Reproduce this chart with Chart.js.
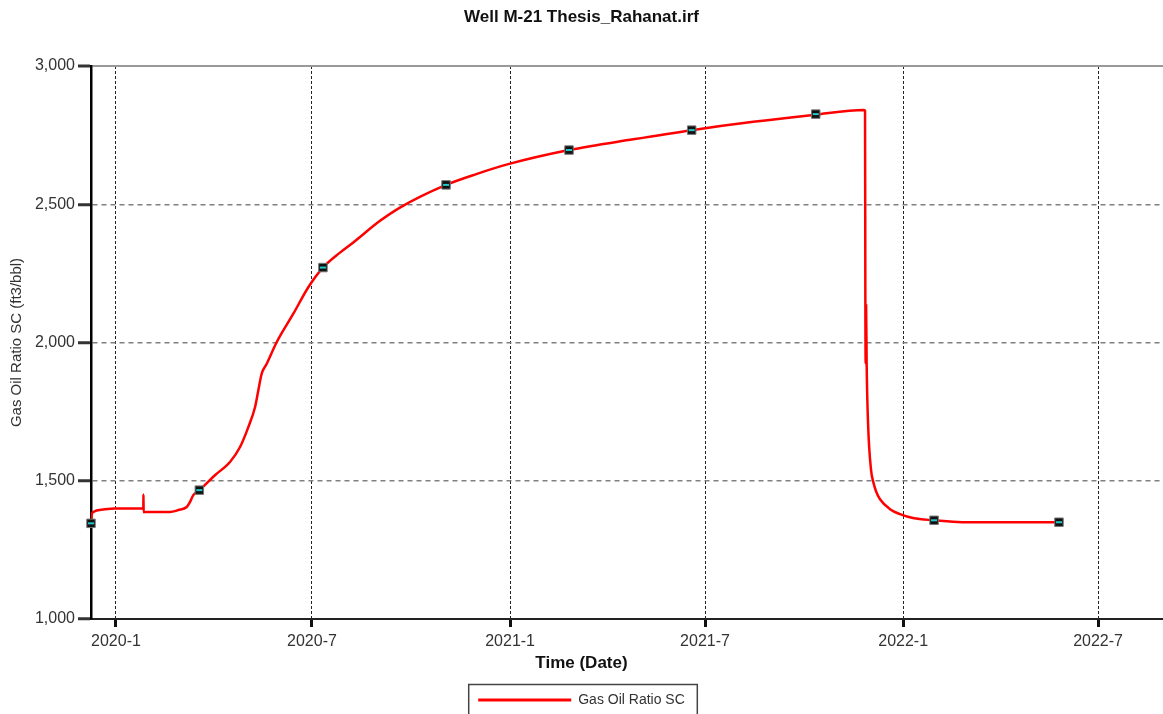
<!DOCTYPE html>
<html>
<head>
<meta charset="utf-8">
<title>Well M-21 Thesis_Rahanat.irf</title>
<script src="https://cdn.jsdelivr.net/npm/chart.js@4.4.1/dist/chart.umd.min.js"></script>
<style>
    html, body { margin: 0; padding: 0; background: #fff; }
    #wrap { width: 1163px; height: 714px; }
</style>
</head>
<body>
<div id="wrap"><canvas id="gorChart" width="1163" height="714"></canvas></div>
<script>
// x values are days counted from 2020-01-01
const tickDays = [0, 182, 366, 547, 731, 912];
const tickLabels = ['2020-1', '2020-7', '2021-1', '2021-7', '2022-1', '2022-7'];
const yTicks = [1000, 1500, 2000, 2500, 3000];

const gorDays = [
    -23.2, -22.6, -21.1, -11.8, -0.9, 25.4, 25.5, 25.7, 27.9, 50.1,
    57.9, 65.7, 68.7, 71.8, 77.4, 91.9, 105.9, 115.2, 122.9, 129.1,
    132.2, 135.3, 140.0, 149.2, 164.7, 178.6, 192.2, 208.0, 220.4, 245.2,
    263.7, 306.5, 335.3, 364.3, 420.7, 480.4, 534.6, 591.8, 647.6, 694.7,
    695.6, 695.9, 696.2, 696.6, 697.1, 698.4, 701.2, 703.3, 705.8, 709.5,
    718.8, 728.1, 740.2, 759.7, 785.7, 875.7
];
const gorValues = [
    1346, 1375, 1387, 1396, 1400, 1400, 1450, 1386, 1387, 1387,
    1394, 1405, 1423, 1448, 1466, 1520, 1568, 1622, 1694, 1766,
    1827, 1887, 1923, 2001, 2104, 2200, 2271, 2325, 2362, 2440,
    2488, 2570, 2610, 2645, 2696, 2735, 2768, 2798, 2823, 2841,
    2838, 2152, 1924, 2134, 1924, 1708, 1538, 1495, 1462, 1433,
    1397, 1379, 1365, 1357, 1350, 1350
];

const markerDays = [-23.2, 77.4, 192.2, 306.5, 420.7, 534.6, 649.8, 759.7, 875.7];
const markerValues = [1346, 1466, 2271, 2570, 2696, 2768, 2826, 1357, 1350];

Chart.defaults.font.family = 'Arial, "Liberation Sans", sans-serif';
Chart.defaults.color = '#333';

const toPoints = (xs, ys) => xs.map((x, i) => ({ x: x, y: ys[i] }));

// box round the legend and the x axis title, centred on the canvas like the original
const extras = {
    id: 'extras',
    afterDraw(chart) {
        const ctx = chart.ctx;
        ctx.save();
        ctx.font = 'bold 17px Arial, "Liberation Sans", sans-serif';
        ctx.fillStyle = '#111';
        ctx.textAlign = 'center';
        ctx.textBaseline = 'middle';
        ctx.fillText('Time (Date)', chart.width / 2, 663);

        const hb = chart.legend.legendHitBoxes[0];
        if (hb) {
            ctx.strokeStyle = '#444';
            ctx.lineWidth = 1.5;
            ctx.strokeRect(hb.left - 9.5, chart.legend.top - 0.5, hb.width + 22, 34);
        }
        ctx.restore();
    }
};

new Chart(document.getElementById('gorChart'), {
    type: 'line',
    data: {
        datasets: [
            {
                label: 'Gas Oil Ratio SC',
                data: toPoints(gorDays, gorValues),
                borderColor: '#ff0000',
                backgroundColor: '#ff0000',
                borderWidth: 2.5,
                pointRadius: 0,
                cubicInterpolationMode: 'monotone',
                fill: false,
                order: 3
            },
            {
                label: 'markers',
                data: toPoints(markerDays, markerValues),
                showLine: false,
                pointStyle: 'rect',
                pointRadius: 6,
                pointBackgroundColor: '#111',
                pointBorderColor: '#777',
                pointBorderWidth: 1,
                clip: false,
                order: 2
            },
            {
                label: 'marker core',
                data: toPoints(markerDays, markerValues),
                showLine: false,
                pointStyle: 'line',
                pointRadius: 3,
                pointBorderColor: '#22c8c8',
                pointBorderWidth: 2,
                clip: false,
                order: 1
            }
        ]
    },
    options: {
        responsive: false,
        animation: false,
        layout: { autoPadding: false, padding: { left: 0, right: 0, top: 0, bottom: -3 } },
        scales: {
            x: {
                type: 'linear',
                min: -23.2,
                max: 972.3,
                afterBuildTicks: s => { s.ticks = tickDays.map(v => ({ value: v })); },
                afterFit: s => { s.height = 66; s.paddingLeft = 0; s.paddingRight = 0; },
                ticks: {
                    callback: (v, i) => tickLabels[i],
                    font: { size: 16 },
                    color: '#333',
                    padding: 5,
                    maxRotation: 0,
                    autoSkip: false
                },
                grid: { color: '#222', lineWidth: 1, tickColor: '#111', tickLength: 8, tickWidth: 3 },
                border: { color: '#222', width: 2, dash: [3, 2] }
            },
            y: {
                min: 1000,
                max: 3000,
                afterBuildTicks: s => { s.ticks = yTicks.map(v => ({ value: v })); },
                afterFit: s => { s.width = 91; },
                ticks: {
                    callback: v => v.toLocaleString('en-US'),
                    font: { size: 16 },
                    color: '#333',
                    padding: 3
                },
                grid: {
                    color: c => c.tick.value === 1000 ? 'rgba(0,0,0,0)' : (c.tick.value === 3000 ? '#999' : '#808080'),
                    lineWidth: c => c.tick.value === 3000 ? 2 : 1.5,
                    tickColor: '#333',
                    tickLength: 13,
                    tickWidth: 3
                },
                border: {
                    color: '#000',
                    width: 2.5,
                    dash: c => (c.tick && c.tick.value === 3000) ? [] : [5, 4]
                },
                title: {
                    display: true,
                    text: 'Gas Oil Ratio SC (ft3/bbl)',
                    font: { size: 15 },
                    color: '#333',
                    padding: { top: 8, bottom: 0 }
                }
            }
        },
        plugins: {
            title: {
                display: true,
                text: 'Well M-21 Thesis_Rahanat.irf',
                font: { size: 17, weight: 'bold' },
                color: '#111',
                padding: { top: 7, bottom: 38.6 }
            },
            legend: {
                position: 'bottom',
                labels: {
                    boxWidth: 93,
                    boxHeight: 3,
                    padding: 8,
                    font: { size: 14 },
                    color: '#333',
                    generateLabels: chart => Chart.defaults.plugins.legend.labels.generateLabels(chart)
                        .filter(it => it.datasetIndex === 0)
                        .map(it => Object.assign(it, { lineWidth: 0, fillStyle: '#ff0000' }))
                }
            },
            tooltip: { enabled: false }
        }
    },
    plugins: [extras]
});
</script>
</body>
</html>
